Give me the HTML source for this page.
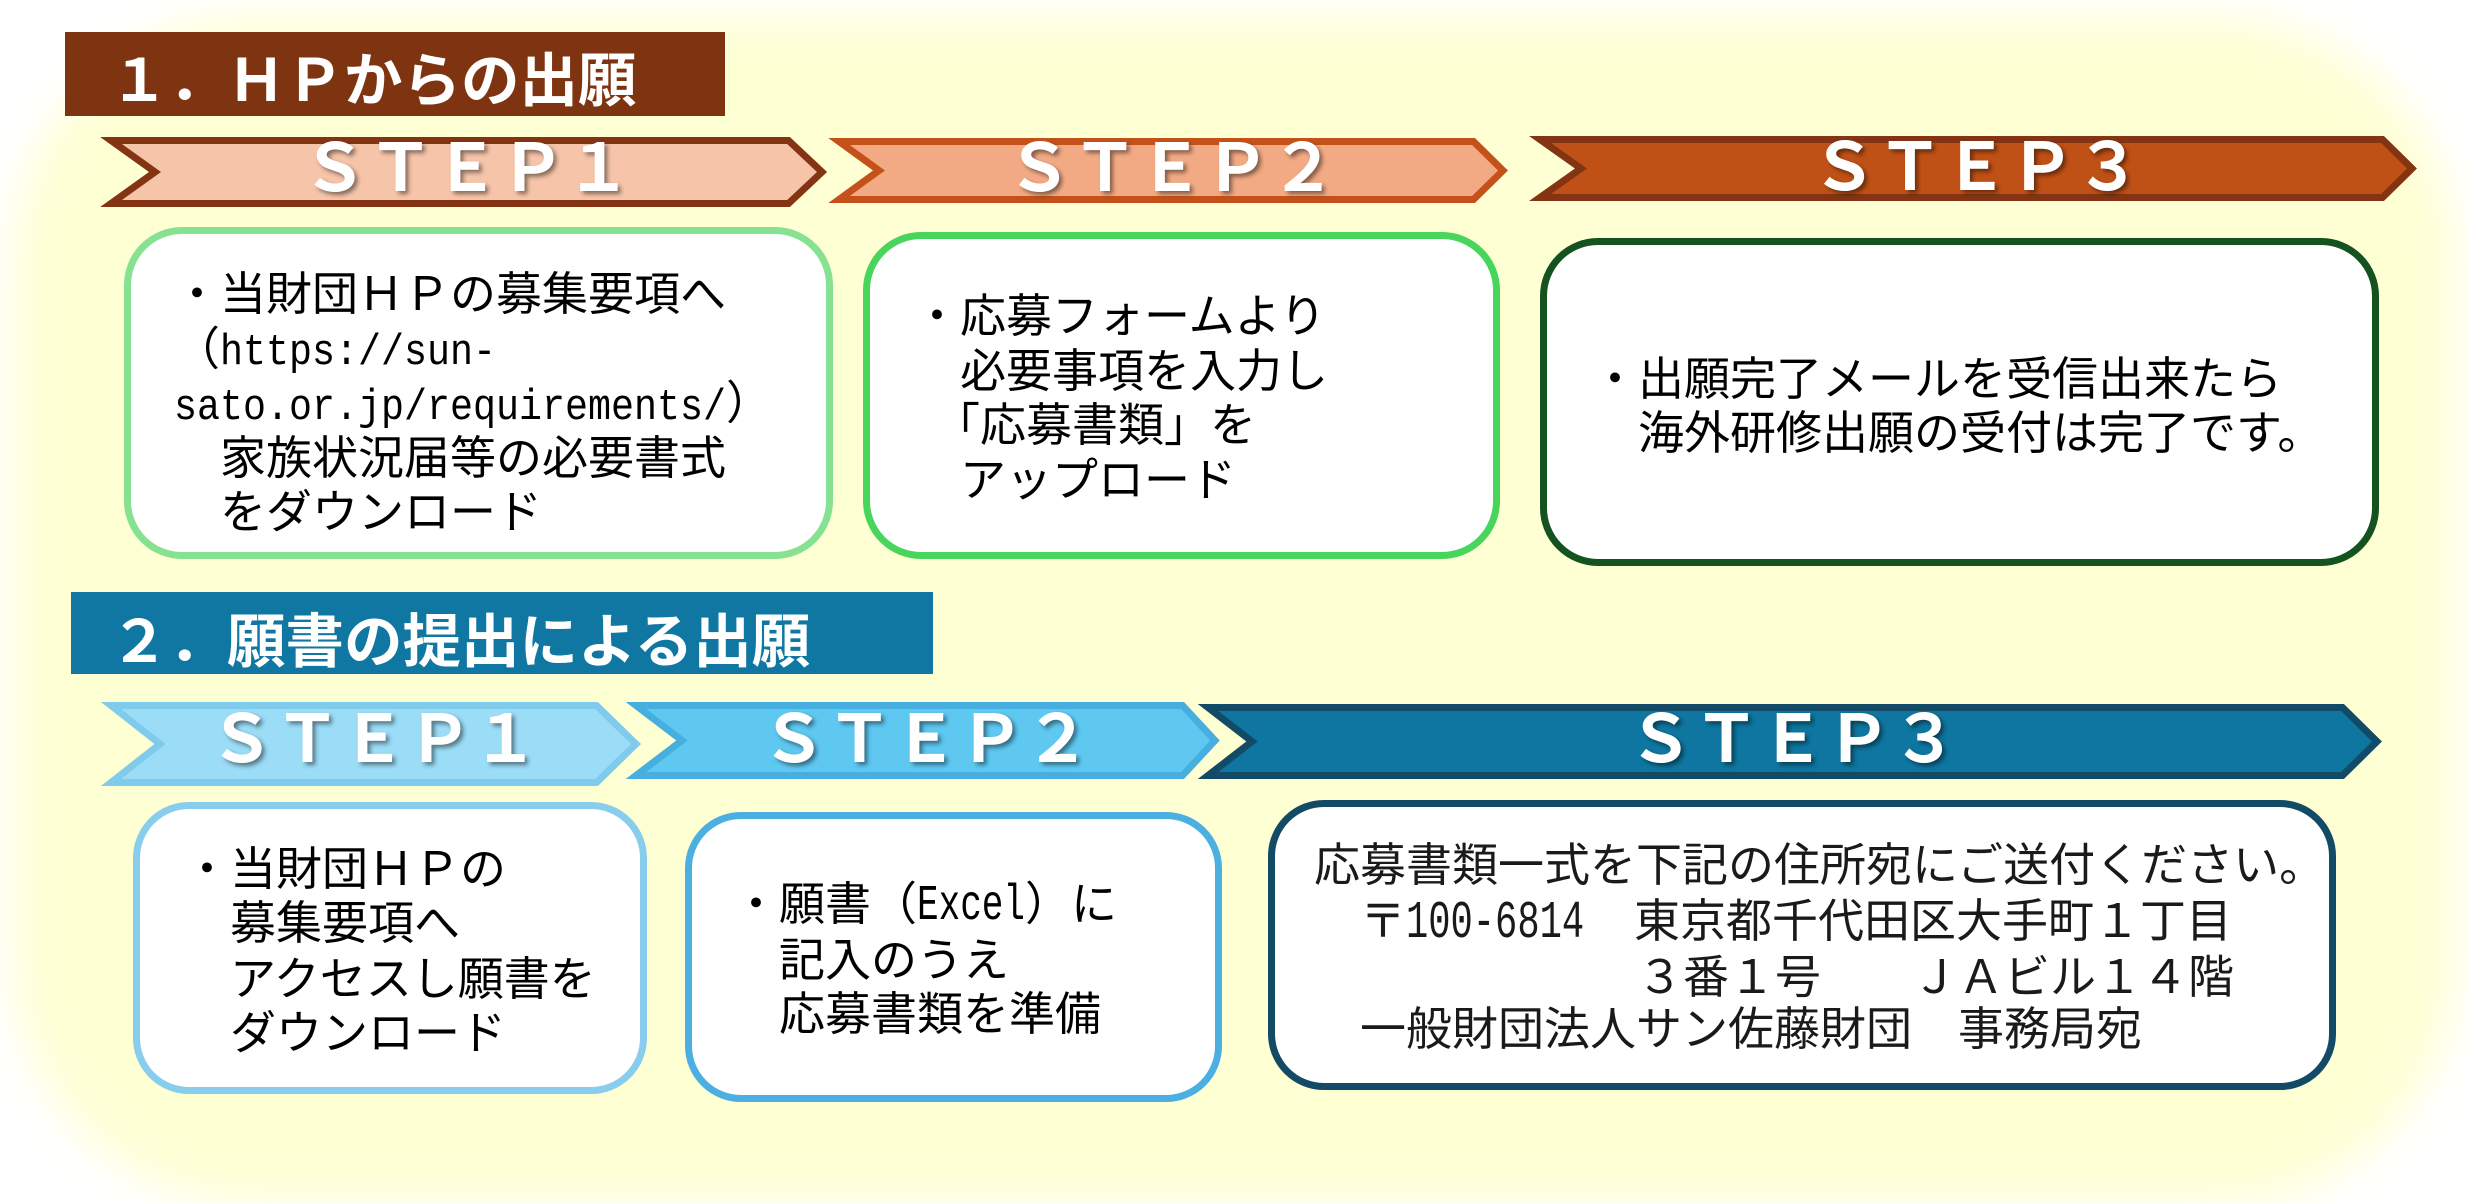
<!DOCTYPE html>
<html lang="ja">
<head>
<meta charset="utf-8">
<style>
  html,body{margin:0;padding:0;}
  body{width:2470px;height:1177px;overflow:hidden;background:#ffffff;position:relative;
       font-family:"Liberation Sans","Noto Sans CJK JP",sans-serif;}
  .bg{position:absolute;left:15px;top:18px;width:2440px;height:1185px;border-radius:240px;
      background:#FFFFD4;filter:blur(22px);}
  .title{position:absolute;}
  .tt{position:absolute;font-size:58.5px;line-height:58.5px;font-weight:700;color:#fff;white-space:pre;}
  .step{position:absolute;font-size:66px;line-height:66px;font-weight:700;color:#fff;text-align:center;
        white-space:pre;text-shadow:3px 3px 4px rgba(0,0,0,0.45);}
  .box{position:absolute;box-sizing:border-box;background:#fff;border:7px solid #000;border-radius:58px;}
  .t{position:absolute;font-size:46px;line-height:55px;color:#000;white-space:pre;}
  .m{position:absolute;font-family:"Liberation Mono",monospace;color:#000;white-space:pre;transform-origin:0 0;}
</style>
</head>
<body>
<div class="bg"></div>

<!-- Section titles -->
<div class="title" style="left:65px;top:32px;width:660px;height:84px;background:#7F3411;"></div>
<div class="tt" style="left:110px;top:52.5px;">１．ＨＰからの出願</div>

<div class="title" style="left:71px;top:592px;width:862px;height:82px;background:#0F77A1;"></div>
<div class="tt" style="left:110px;top:613.5px;">２．願書の提出による出願</div>

<!-- Arrows -->
<svg width="2470" height="1177" style="position:absolute;left:0;top:0;" xmlns="http://www.w3.org/2000/svg">
  <g stroke-width="7" stroke-linejoin="miter">
    <polygon points="111,140.5 788.5,140.5 822,172 788.5,203.5 111,203.5 155,172" fill="#F5C4A9" stroke="#843413"/>
    <polygon points="839,141.5 1473.5,141.5 1503,170.5 1473.5,199.5 839,199.5 879,170.5" fill="#F2AA84" stroke="#C4511A"/>
    <polygon points="1540,139.5 2382.5,139.5 2412,168.5 2382.5,197.5 1540,197.5 1581,168.5" fill="#C05116" stroke="#843412"/>
    <polygon points="111,705.5 596.5,705.5 636,744 596.5,782.5 111,782.5 160,744" fill="#9BDCF6" stroke="#80CBEB"/>
    <polygon points="636,705.5 1182.5,705.5 1215,740.5 1182.5,775.5 636,775.5 682,740.5" fill="#5EC8F1" stroke="#47AFDF"/>
    <polygon points="1208,707.5 2342.5,707.5 2377,741.5 2342.5,775.5 1208,775.5 1252,741.5" fill="#0E76A0" stroke="#134A65"/>
  </g>
</svg>

<!-- STEP labels -->
<div class="step" style="left:106px;width:721px;top:135px;">ＳＴＥＰ１</div>
<div class="step" style="left:834px;width:674px;top:135px;">ＳＴＥＰ２</div>
<div class="step" style="left:1535px;width:882px;top:134px;">ＳＴＥＰ３</div>
<div class="step" style="left:106px;width:535px;top:706px;">ＳＴＥＰ１</div>
<div class="step" style="left:631px;width:589px;top:706px;">ＳＴＥＰ２</div>
<div class="step" style="left:1203px;width:1179px;top:706px;">ＳＴＥＰ３</div>

<!-- Row 1 boxes -->
<div class="box" style="left:124px;top:227px;width:709px;height:332px;border-color:#86E290;"></div>
<div class="box" style="left:863px;top:232px;width:637px;height:327px;border-color:#48D55B;"></div>
<div class="box" style="left:1540px;top:238px;width:839px;height:328px;border-color:#145220;"></div>

<!-- Row 2 boxes -->
<div class="box" style="left:133px;top:802px;width:514px;height:292px;border-color:#88CDEC;border-radius:56px;"></div>
<div class="box" style="left:685px;top:812px;width:537px;height:290px;border-color:#4BB0E1;border-radius:56px;"></div>
<div class="box" style="left:1268px;top:800px;width:1068px;height:290px;border-color:#134A66;border-radius:56px;"></div>

<!-- Row 1 box 1 text -->
<div class="t" style="left:174px;top:267px;">・当財団ＨＰの募集要項へ</div>
<div class="t" style="left:174px;top:321.5px;">（</div>
<div class="m" style="left:220px;top:331.2px;font-size:44px;line-height:44px;transform:scaleX(0.871);">https://sun-</div>
<div class="m" style="left:174px;top:385.7px;font-size:44px;line-height:44px;transform:scaleX(0.871);">sato.or.jp/requirements/</div>
<div class="t" style="left:726px;top:376px;">）</div>
<div class="t" style="left:174px;top:430.5px;">　家族状況届等の必要書式</div>
<div class="t" style="left:174px;top:485px;">　をダウンロード</div>

<!-- Row 1 box 2 text -->
<div class="t" style="left:914px;top:289px;">・応募フォームより</div>
<div class="t" style="left:914px;top:344px;">　必要事項を入力し</div>
<div class="t" style="left:934px;top:398px;">「応募書類」を</div>
<div class="t" style="left:914px;top:453px;">　アップロード</div>

<!-- Row 1 box 3 text -->
<div class="t" style="left:1592px;top:352px;">・出願完了メールを受信出来たら</div>
<div class="t" style="left:1592px;top:405.5px;">　海外研修出願の受付は完了です。</div>

<!-- Row 2 box 1 text -->
<div class="t" style="left:184px;top:842px;">・当財団ＨＰの</div>
<div class="t" style="left:184px;top:896px;">　募集要項へ</div>
<div class="t" style="left:184px;top:952px;">　アクセスし願書を</div>
<div class="t" style="left:184px;top:1006px;">　ダウンロード</div>

<!-- Row 2 box 2 text -->
<div class="t" style="left:733px;top:876.5px;">・願書（</div>
<div class="m" style="left:917px;top:881.6px;font-size:50px;line-height:50px;transform:scaleX(0.72);">Excel</div>
<div class="t" style="left:1025px;top:876.5px;">）に</div>
<div class="t" style="left:733px;top:932.6px;">　記入のうえ</div>
<div class="t" style="left:733px;top:986.8px;">　応募書類を準備</div>

<!-- Row 2 box 3 text -->
<div class="t" style="left:1314px;top:838px;color:#1a1a1a;">応募書類一式を下記の住所宛にご送付ください。</div>
<div class="t" style="left:1360px;top:894px;color:#1a1a1a;">〒</div>
<div class="m" style="left:1406px;top:896.8px;font-size:53px;line-height:53px;transform:scaleX(0.70);color:#1a1a1a;">100-6814</div>
<div class="t" style="left:1634px;top:894px;color:#1a1a1a;">東京都千代田区大手町１丁目</div>
<div class="t" style="left:1637px;top:950px;color:#1a1a1a;">３番１号</div>
<div class="t" style="left:1912px;top:950px;color:#1a1a1a;">ＪＡビル１４階</div>
<div class="t" style="left:1360px;top:1002px;color:#1a1a1a;">一般財団法人サン佐藤財団　事務局宛</div>

</body>
</html>
